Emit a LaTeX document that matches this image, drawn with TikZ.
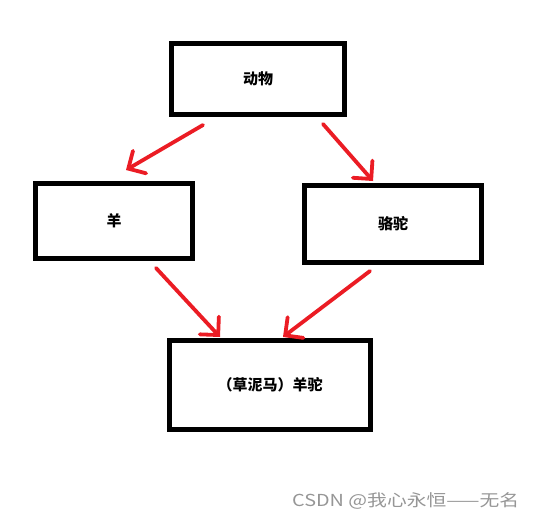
\documentclass[tikz,border=0pt]{standalone}
\usepackage{fontspec}
\setmainfont{Noto Sans CJK SC}
\usetikzlibrary{arrows.meta}
\definecolor{arrowred}{RGB}{235,28,36}
\definecolor{wmgray}{RGB}{150,150,150}
\tikzset{
  box/.style={draw=black, line width=5pt, fill=white, minimum width=#1, inner sep=0pt, font=\fontsize{15pt}{17pt}\selectfont\bfseries},
  rel/.style={draw=arrowred, line width=3.8pt, line cap=round, -{Straight Barb[length=13pt,width=26pt,line cap=round]}},
}
\begin{document}
\begin{tikzpicture}[x=1pt,y=-1pt]
\useasboundingbox (0,0) rectangle (535,523);
\node[box=173pt, minimum height=71pt] (animal) at (258,79) {动物};
\node[box=157pt, minimum height=75pt] (sheep) at (114,221) {羊};
\node[box=177pt, minimum height=77pt] (camel) at (393,224) {骆驼};
\node[box=201pt, minimum height=89pt] (alpaca) at (270,385) {（草泥马）羊驼};
\coordinate (a1) at (203,125);
\coordinate (a1e) at (126,170);
\coordinate (a2) at (323,124);
\coordinate (a2e) at (373,181);
\coordinate (a3) at (156,268);
\coordinate (a3e) at (220,337);
\coordinate (a4) at (370,271);
\coordinate (a4e) at (283,337);
\draw[rel] (a1) -- (a1e);
\draw[rel] (a2) -- (a2e);
\draw[rel] (a3) -- (a3e);
\draw[rel] (a4) -- (a4e);
\node[text=wmgray, font=\fontsize{16.5pt}{18pt}\selectfont, anchor=west, inner sep=0pt] (wm) at (292,501) {\scalebox{1.2}[1]{CSDN @我心永恒——无名}};
\end{tikzpicture}
\end{document}
